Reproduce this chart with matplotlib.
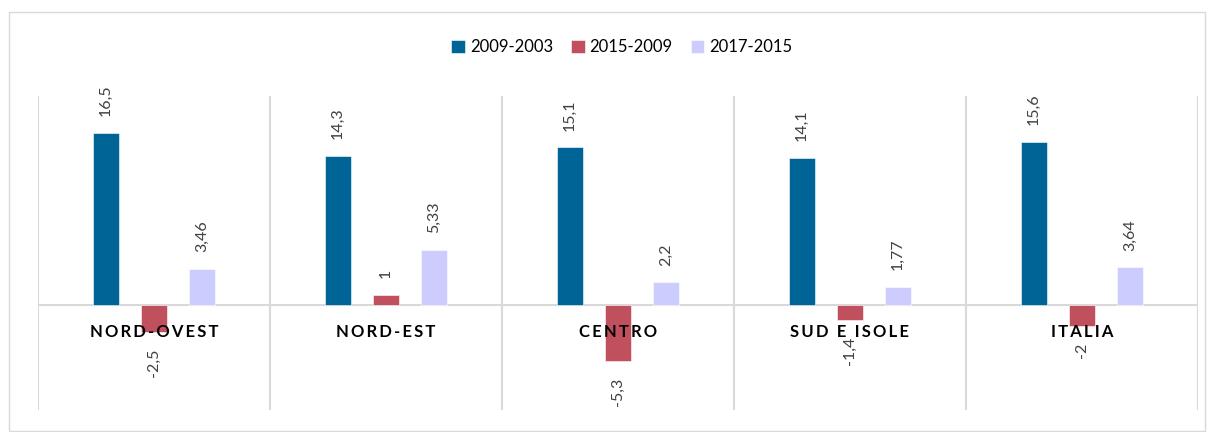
import matplotlib
matplotlib.use("Agg")
import matplotlib.pyplot as plt
from matplotlib.patches import Rectangle
import numpy as np

plt.rcParams['font.family'] = ['Lato', 'DejaVu Sans']

categories = ["NORD-OVEST", "NORD-EST", "CENTRO", "SUD E ISOLE", "ITALIA"]
series_names = ["2009-2003", "2015-2009", "2017-2015"]
s_2009_2003 = [16.5, 14.3, 15.1, 14.1, 15.6]
s_2015_2009 = [-2.5, 1, -5.3, -1.4, -2]
s_2017_2015 = [3.46, 5.33, 2.2, 1.77, 3.64]
colors = ["#006496", "#C0505E", "#CCCCFF"]

fig = plt.figure(figsize=(12.15, 4.32), dpi=100)
fig.patches.append(Rectangle((9/1215, 1 - 431/432), 1196/1215, 419/432,
                             transform=fig.transFigure, fill=False,
                             edgecolor="#D9D9D9", linewidth=1))
ax = fig.add_axes([38/1215, 1 - 410/432, 1160/1215, 314/432])

x = np.arange(len(categories))
width = 0.108
offsets = [-0.207, 0.0, 0.207]
all_series = [s_2009_2003, s_2015_2009, s_2017_2015]

for vals, off, col, name in zip(all_series, offsets, colors, series_names):
    bars = ax.bar(x + off, vals, width, color=col, label=name,
                  edgecolor="white", linewidth=0.4, zorder=3)
    for b, v in zip(bars, vals):
        txt = f"{v:g}".replace('.', ',')
        if v >= 0:
            ax.annotate(txt, (b.get_x() + b.get_width()/2, v), xytext=(0, 12),
                        textcoords="offset points", rotation=90,
                        ha="center", va="bottom", fontsize=11.5, color="#404040")
        else:
            ax.annotate(txt, (b.get_x() + b.get_width()/2, v), xytext=(0, -12),
                        textcoords="offset points", rotation=90,
                        ha="center", va="top", fontsize=11.5, color="#404040")

ax.set_xlim(-0.5, len(categories) - 0.5)
ax.set_ylim(-10, 20)
for sp in ax.spines.values():
    sp.set_visible(False)
ax.set_xticks([])
ax.set_yticks([])
ax.axhline(0, color="#D9D9D9", linewidth=1.5, zorder=2)
for b in np.arange(-0.5, len(categories), 1.0):
    ax.axvline(b, color="#D9D9D9", linewidth=1.5, zorder=1)

for i, c in enumerate(categories):
    spaced = "\u2009".join(c)
    ax.annotate(spaced, (i, 0), xytext=(0, -19), textcoords="offset points",
                ha="center", va="center", fontsize=12, fontweight="bold",
                color="black", zorder=5)

fig.legend(loc="center", bbox_to_anchor=(622/1215, 1 - 47/432), ncol=3,
           frameon=False, fontsize=12, handlelength=0.8, handleheight=0.8,
           handletextpad=0.3, columnspacing=1.1)

fig.savefig("out.png", dpi=100)
